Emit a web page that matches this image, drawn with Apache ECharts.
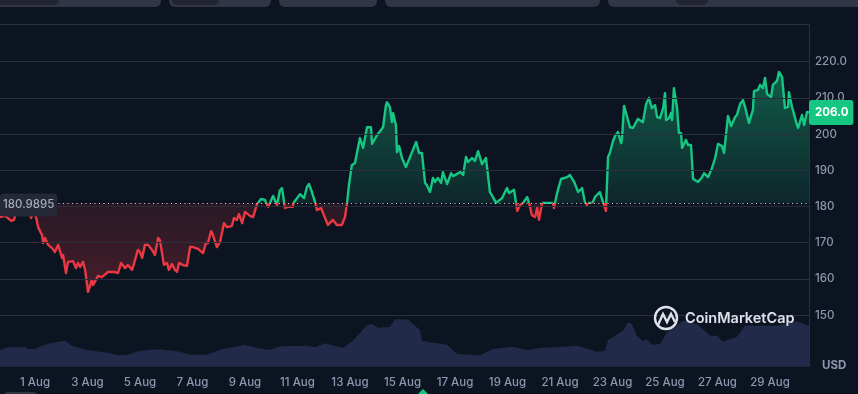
<!DOCTYPE html>
<html>
<head>
<meta charset="utf-8">
<style>html,body{margin:0;padding:0;background:#0d1421}#c{width:858px;height:394px}</style>
<script src="https://cdn.jsdelivr.net/npm/echarts@6/dist/echarts.min.js"></script>
</head>
<body>
<div id="c"></div>
<script>
const baseline = 180.9895;
const lastPrice = 206.0;
const priceTicks = [150,160,170,180,190,200,210,220];
const priceTickLabels = ['150','160','170','180','190','200','210.0','220.0'];
const dateTicks = [1,3,5,7,9,11,13,15,17,19,21,23,25,27,29];
const priceDays = [-0.33,-0.14,-0.03,0.09,0.2,0.28,0.43,0.58,0.66,0.77,0.85,0.92,1.04,1.12,1.27,1.31,1.38,1.5,1.65,1.76,1.88,2.03,2.07,2.18,2.26,2.45,2.56,2.64,2.72,2.83,2.91,3.02,3.17,3.21,3.4,3.55,3.78,4.05,4.16,4.28,4.43,4.54,4.7,4.81,4.92,5.0,5.08,5.19,5.31,5.46,5.57,5.69,5.76,5.84,5.91,6.03,6.1,6.22,6.33,6.41,6.49,6.64,6.79,6.91,7.02,7.21,7.4,7.51,7.59,7.71,7.78,7.93,8.05,8.2,8.31,8.5,8.58,8.69,8.77,8.89,9.0,9.19,9.31,9.46,9.61,9.76,9.88,10.07,10.22,10.33,10.41,10.52,10.64,10.83,10.85,11.1,11.25,11.36,11.44,11.55,11.67,11.74,11.9,12.05,12.16,12.35,12.5,12.69,12.81,12.89,12.96,13.07,13.19,13.27,13.38,13.5,13.65,13.8,13.84,14.03,14.26,14.37,14.41,14.52,14.6,14.64,14.75,14.79,14.87,14.98,15.13,15.29,15.52,15.63,15.74,15.86,15.93,16.05,16.16,16.24,16.35,16.47,16.54,16.7,16.85,16.93,17.2,17.31,17.42,17.5,17.65,17.76,17.88,18.03,18.18,18.33,18.45,18.56,18.79,18.98,19.06,19.25,19.37,19.48,19.59,19.75,19.82,19.93,20.05,20.13,20.2,20.32,20.54,20.73,20.77,20.89,21.04,21.27,21.38,21.54,21.69,21.84,21.95,22.03,22.1,22.22,22.33,22.52,22.64,22.75,22.83,22.9,23.02,23.1,23.21,23.33,23.36,23.44,23.59,23.67,23.78,23.97,24.16,24.28,24.39,24.5,24.62,24.7,24.81,24.93,25.0,25.04,25.15,25.23,25.27,25.34,25.46,25.53,25.61,25.65,25.8,25.88,25.99,26.07,26.26,26.41,26.49,26.64,26.79,26.91,27.02,27.17,27.25,27.4,27.52,27.67,27.74,27.86,27.97,28.05,28.2,28.35,28.39,28.54,28.62,28.73,28.81,28.89,29.04,29.11,29.27,29.34,29.46,29.57,29.69,29.72,29.84,30.03,30.07,30.22,30.3,30.41,30.49];
const prices = [177.1,177.4,176.8,176.0,176.3,178.5,180.4,181.8,182.6,180.1,176.8,178.4,177.1,174.3,172.1,169.9,171.3,169.4,168.5,167.4,169.4,165.8,166.6,161.6,164.7,164.9,163.0,164.4,163.3,164.7,162.4,156.4,159.7,158.3,160.8,160.5,161.9,161.9,161.6,164.4,163.0,163.8,162.5,165.2,168.0,167.4,165.8,169.4,169.4,168.0,166.6,171.3,170.7,167.1,163.9,164.4,162.5,164.1,162.5,161.9,164.4,163.8,163.6,168.8,168.8,168.3,167.1,169.9,169.9,173.2,172.1,168.8,170.2,175.4,174.3,174.6,176.8,176.3,177.9,175.4,178.5,177.4,177.1,180.7,182.1,181.8,179.9,182.9,180.4,184.5,185.1,179.6,179.9,179.9,181.5,183.4,182.3,185.4,186.2,184.0,181.2,179.0,179.6,176.8,174.9,176.3,174.9,174.9,177.1,181.0,185.9,191.4,192.0,195.0,198.9,196.2,201.9,201.9,197.3,199.7,201.9,208.0,208.8,207.5,203.3,205.8,202.5,195.0,196.7,193.4,190.9,193.7,197.8,194.8,194.8,186.5,185.9,184.0,187.9,186.8,187.9,186.5,189.5,186.2,189.2,188.4,189.5,188.7,193.7,192.3,193.4,192.6,195.3,191.7,193.4,184.0,182.6,181.0,182.3,185.1,183.7,184.6,178.8,180.4,181.0,182.6,181.0,177.6,177.1,179.6,176.3,181.0,181.0,181.0,179.6,183.7,187.6,188.1,188.7,186.8,184.0,185.1,181.2,180.4,181.5,180.7,182.6,184.0,181.2,178.8,193.7,194.8,198.1,199.5,200.6,197.5,198.4,207.8,203.9,201.9,201.7,204.2,203.3,208.3,210.0,207.2,208.0,204.7,204.4,207.2,211.3,203.9,204.4,205.8,203.9,212.7,207.2,200.3,200.3,196.2,198.4,197.0,197.0,187.6,186.8,188.1,189.2,188.1,190.6,193.4,197.3,196.7,194.8,205.0,202.2,204.7,205.3,208.3,209.4,207.5,203.1,206.7,211.9,212.2,213.6,212.7,215.5,211.1,210.2,213.6,214.7,217.2,215.8,207.2,207.5,211.6,207.5,202.5,201.7,205.3,202.5,206.1,206.0];
const volumeDays = [-0.33,-0.03,0.62,0.74,1.0,1.26,1.57,2.14,2.41,2.98,3.86,4.12,4.54,5.0,5.76,6.52,6.9,7.55,8.16,9.0,9.46,9.95,10.33,11.36,11.67,12.05,12.73,13.11,13.65,13.84,14.07,14.52,14.71,15.21,15.67,15.74,16.05,16.7,17.08,17.95,18.45,19.21,19.75,20.24,21.12,21.65,22.41,22.72,22.83,23.4,23.59,23.74,23.93,24.16,24.31,24.5,24.81,25.08,25.69,26.22,26.72,26.99,27.21,27.74,28.05,28.73,29.27,30.03,30.49];
const volumes = [16.5,19.2,19.2,17.5,17.5,20.8,23.2,25.8,20.8,16.5,13.2,11.2,11.8,15.8,17.2,14.8,11.8,11.8,17.5,21.8,18.5,16.5,20.2,20.8,19.2,23.2,18.5,25.8,41.2,42.8,38.8,39.5,47.2,46.9,36.2,25.8,24.2,21.8,12.5,11.2,17.5,19.8,16.5,18.5,19.8,20.8,14.8,15.8,26.5,35.8,44.2,42.5,30.8,25.2,27.5,21.8,22.5,34.2,45.8,42.5,30.8,30.8,24.8,29.8,40.8,40.8,40.8,45.2,40.2];

const xMin = -0.333, xMax = 30.486;
const yMin = 135.8, yMax = 230.28;
const FONT = 'Inter';
const GREEN = '#16c784', RED = '#ea3943';
const LINE = '#2b2f3c';

// split the price line at the baseline so it can be coloured above / below it
const up = [], down = [];
prices.forEach((p, i) => {
  const d = priceDays[i];
  if (i > 0) {
    const q = prices[i - 1], e = priceDays[i - 1];
    if ((p - baseline) * (q - baseline) < 0) {
      const c = e + (d - e) * (baseline - q) / (p - q);
      up.push([c, baseline]); down.push([c, baseline]);
    }
  }
  up.push([d, p >= baseline ? p : null]);
  down.push([d, p <= baseline ? p : null]);
});

const gridLines = priceTicks.concat([yMax]).map(v => ({ yAxis: v }));

const chart = echarts.init(document.getElementById('c'), null, { renderer: 'canvas' });
chart.setOption({
  animation: false,
  backgroundColor: '#0d1421',
  textStyle: { fontFamily: FONT },
  grid: { left: 0, right: 49, top: 24.5, bottom: 27.5, containLabel: false },
  xAxis: {
    type: 'value', min: xMin, max: xMax, splitLine: { show: false },
    axisLine: { show: true, onZero: false, lineStyle: { color: '#222632' } },
    axisTick: { show: false },
    axisLabel: { customValues: dateTicks, formatter: v => v + ' Aug', color: '#8e97b0', fontSize: 11.5, fontWeight: 500, fontFamily: FONT, margin: 10 }
  },
  yAxis: [
    {
      type: 'value', position: 'right', min: yMin, max: yMax, splitLine: { show: false },
      axisLine: { show: true, onZero: false, lineStyle: { color: LINE } },
      axisTick: { show: false },
      axisLabel: {
        customValues: priceTicks,
        formatter: v => priceTickLabels[priceTicks.indexOf(v)],
        color: '#9096ac', fontSize: 11.5, fontWeight: 500, fontFamily: FONT, margin: 6
      }
    },
    { type: 'value', min: 0, max: 342, show: false }
  ],
  series: [
    {
      name: 'Volume', type: 'line', yAxisIndex: 1, z: 1, showSymbol: false,
      data: volumeDays.map((d, i) => [d, volumes[i]]),
      lineStyle: { width: 0 }, areaStyle: { color: '#212a48', opacity: 1 }
    },
    {
      name: 'Grid', type: 'line', z: 2, showSymbol: false, data: [[xMin, yMin]], lineStyle: { width: 0 },
      markLine: { silent: true, symbol: 'none', animation: false, label: { show: false },
        lineStyle: { color: LINE, width: 1, type: 'solid' }, data: gridLines }
    },
    {
      name: 'Above', type: 'line', z: 3, showSymbol: false, connectNulls: false, data: up,
      lineStyle: { color: GREEN, width: 2.4, join: 'round' },
      itemStyle: { color: GREEN },
      areaStyle: { origin: baseline, opacity: 1, color: new echarts.graphic.LinearGradient(0, 0, 0, 1, [
        { offset: 0, color: 'rgba(22,199,132,0.40)' }, { offset: 1, color: 'rgba(22,199,132,0.10)' }]) }
    },
    {
      name: 'Below', type: 'line', z: 3, showSymbol: false, connectNulls: false, data: down,
      lineStyle: { color: RED, width: 2.4, join: 'round' },
      itemStyle: { color: RED },
      areaStyle: { origin: baseline, opacity: 1, color: new echarts.graphic.LinearGradient(0, 0, 0, 1, [
        { offset: 0, color: 'rgba(234,57,67,0.12)' }, { offset: 1, color: 'rgba(234,57,67,0.26)' }]) }
    },
    {
      name: 'Marks', type: 'line', z: 5, showSymbol: false, data: [[xMin, yMin]], lineStyle: { width: 0 },
      markLine: { silent: true, symbol: 'none', animation: false, label: { show: false },
        lineStyle: { color: '#d5d8df', width: 1, type: [1, 3.5] }, data: [{ yAxis: baseline }] },
      markPoint: {
        silent: true, symbol: 'circle', symbolSize: 0, animation: false,
        data: [
          { coord: [xMin, baseline], label: { show: true, position: 'right', distance: 0, offset: [0, 2], formatter: String(baseline),
              color: '#a7abb9', fontWeight: 500, fontSize: 11.5, fontFamily: FONT, backgroundColor: '#252935', padding: [6, 3, 5, 3], borderRadius: 4 } },
          { coord: [xMax, lastPrice], label: { show: true, position: 'right', distance: 0, formatter: lastPrice.toFixed(1),
              color: '#ffffff', fontWeight: 700, fontSize: 11.5, fontFamily: FONT, backgroundColor: GREEN, padding: [7, 5, 6, 6], borderRadius: 3 } }
        ]
      }
    }
  ],
  graphic: [
    { type: 'rect', shape: { x: -8, y: -8, width: 169, height: 15, r: 6 }, style: { fill: '#323546' } },
    { type: 'rect', shape: { x: -8, y: -8, width: 67, height: 13, r: 5 }, style: { fill: '#222531' } },
    { type: 'rect', shape: { x: 169, y: -8, width: 102, height: 15, r: 6 }, style: { fill: '#323546' } },
    { type: 'rect', shape: { x: 172, y: -8, width: 47, height: 13, r: 5 }, style: { fill: '#222531' } },
    { type: 'rect', shape: { x: 279, y: -8, width: 98, height: 15, r: 6 }, style: { fill: '#323546' } },
    { type: 'rect', shape: { x: 385, y: -8, width: 215, height: 15, r: 6 }, style: { fill: '#323546' } },
    { type: 'rect', shape: { x: 608, y: -8, width: 258, height: 15, r: 6 }, style: { fill: '#323546' } },
    { type: 'rect', shape: { x: 676, y: -8, width: 32, height: 13, r: 5 }, style: { fill: '#222531' } },
    { type: 'rect', shape: { x: 4, y: 392, width: 33, height: 8, r: 4 }, style: { fill: '#323546' } },
    { type: 'polygon', shape: { points: [[423, 389], [417, 395], [429, 395]] }, style: { fill: GREEN } },
    { type: 'text', x: 822, y: 365.5, z: 10, style: { text: 'USD', fill: '#8e97b0', font: '700 11.5px Inter', textVerticalAlign: 'middle' } },
    { type: 'circle', z: 10, shape: { cx: 666, cy: 318, r: 11 }, style: { fill: 'none', stroke: '#dfe2ea', lineWidth: 2.4 } },
    { type: 'polyline', z: 11, shape: { points: [[658, 325], [663, 314], [667, 322], [671, 314], [675, 322]] }, style: { fill: 'none', stroke: '#dfe2ea', lineWidth: 2.4 } },
    { type: 'text', x: 685, y: 319, z: 10, style: { text: 'CoinMarketCap', fill: '#dfe2ea', font: '600 14.5px Inter', textVerticalAlign: 'middle' } }
  ]
});
</script>
</body>
</html>
